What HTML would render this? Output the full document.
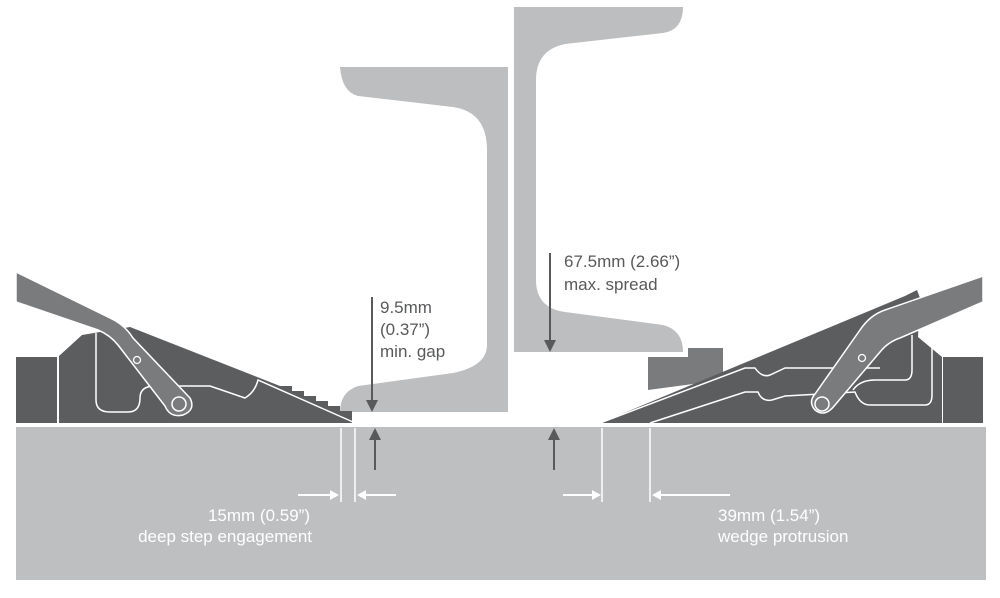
<!DOCTYPE html>
<html><head><style>
html,body{margin:0;padding:0;background:#fff;width:1000px;height:598px;overflow:hidden}
svg{display:block}
text{font-family:"Liberation Sans",sans-serif}
.n{font-family:"Liberation Sans Narrow","Liberation Sans",sans-serif}
</style></head><body>
<svg width="1000" height="598" viewBox="0 0 1000 598" xmlns="http://www.w3.org/2000/svg">
<!-- ground -->
<rect x="16" y="427" width="970" height="153" fill="#bebfc1"/>
<!-- left rail -->
<path d="M340,67 L508,67 L508,412 L340,412 Q340,392 358,386 L453,373 Q487,366 487,345 L487,150 Q487,112 453,107 L358,96 Q342,92 340,67 Z" fill="#bdbec0"/>
<!-- right rail -->
<path d="M514,7 L683,7 Q683,30 663,33 L565,44 Q536,50 536,80 L536,280 Q536,308 565,312 L663,325 Q683,330 683,352 L514,352 Z" fill="#bdbec0"/>

<!-- left clamp -->
<rect x="16" y="357" width="41" height="66" fill="#5c5d5f"/>
<path d="M59,423 L59,356 L82,335 L130,327 L280,386 L292,386 L292,391 L304,391 L304,396 L316,396 L316,401 L328,401 L328,406 L340,406 L340,411 L352,411 L352,423 Z" fill="#5c5d5f"/>
<path d="M96,333 L96,400 Q96,412 110,412 L128,412 Q140,412 140,398 Q140,386 155,386 L210,386 L245,398 Q255,392 258,380 L353,422" fill="none" stroke="#fff" stroke-width="1.5"/>
<path d="M16,272 L110,318 Q125,325 133,338 L190,398 Q196,410 183,415 Q170,418 165,406 L118,345 Q110,335 98,330 L16,302 Z" fill="#7a7b7d" stroke="#fff" stroke-width="1.5"/>
<circle cx="179" cy="404" r="7" fill="none" stroke="#fff" stroke-width="1.5"/>
<circle cx="137" cy="360" r="3.5" fill="none" stroke="#fff" stroke-width="1.3"/>

<!-- right clamp -->
<rect x="943" y="357" width="40" height="66" fill="#5c5d5f"/>
<path d="M648,357 L688,357 L688,348 L723,348 L723,380 L648,390 Z" fill="#7a7b7d"/>
<path d="M600,423 L905,296 L917,290 L920,298 L918,337 L942,357 L942,423 Z" fill="#5c5d5f"/>
<path d="M600,423 L745,368 L755,368 Q762,378 770,375 L785,368 L880,368" fill="none" stroke="#fff" stroke-width="1.5"/>
<path d="M650,423 L745,392 L758,392 Q762,402 772,400 L785,396 L855,392 Q860,405 870,405 L925,405 Q932,405 932,395 L932,340" fill="none" stroke="#fff" stroke-width="1.5"/>
<path d="M853,390 Q860,380 875,380 L905,380 Q912,380 912,370 L912,335" fill="none" stroke="#fff" stroke-width="1.5"/>
<path d="M983,276 L983,302 L900,338 Q888,342 880,352 L835,405 Q825,418 815,410 Q808,402 815,394 L860,330 Q870,315 885,310 Z" fill="#7a7b7d" stroke="#fff" stroke-width="1.5"/>
<circle cx="822" cy="404" r="7" fill="none" stroke="#fff" stroke-width="1.5"/>
<circle cx="862" cy="358" r="3.5" fill="none" stroke="#fff" stroke-width="1.3"/>

<!-- dark dimension arrows -->
<g stroke="#58595b" stroke-width="2" fill="#58595b">
<line x1="372" y1="297" x2="372" y2="402"/><path d="M366,400 L378,400 L372,412 Z" stroke="none"/>
<line x1="375" y1="470" x2="375" y2="437"/><path d="M369,440 L381,440 L375,428 Z" stroke="none"/>
<line x1="550" y1="253" x2="550" y2="342"/><path d="M544,340 L556,340 L550,352 Z" stroke="none"/>
<line x1="554" y1="470" x2="554" y2="437"/><path d="M548,440 L560,440 L554,428 Z" stroke="none"/>
</g>
<!-- white dimension -->
<g stroke="#fff" stroke-width="1.5" fill="#fff">
<line x1="341" y1="428" x2="341" y2="502"/><line x1="355" y1="428" x2="355" y2="502"/>
<line x1="602" y1="428" x2="602" y2="502"/><line x1="650" y1="428" x2="650" y2="502"/>
<line x1="298" y1="495" x2="332" y2="495" stroke-width="2"/><path d="M330,490 L339,495 L330,500 Z" stroke="none"/>
<line x1="364" y1="495" x2="396" y2="495" stroke-width="2"/><path d="M366,490 L357,495 L366,500 Z" stroke="none"/>
<line x1="563" y1="495" x2="594" y2="495" stroke-width="2"/><path d="M592,490 L601,495 L592,500 Z" stroke="none"/>
<line x1="660" y1="495" x2="730" y2="495" stroke-width="2"/><path d="M661,490 L652,495 L661,500 Z" stroke="none"/>
</g>
<!-- labels -->
<g fill="#58595b" font-size="17">
<text x="380" y="313">9.5mm</text>
<text x="380" y="335">(0.37”)</text>
<text x="380" y="357">min. gap</text>
<text x="564" y="267">67.5mm (2.66”)</text>
<text x="564" y="290">max. spread</text>
</g>
<g fill="#fff" font-size="17" class="n">
<text class="n" x="310" y="521" text-anchor="end">15mm (0.59”)</text>
<text class="n" x="312" y="542" text-anchor="end">deep step engagement</text>
<text class="n" x="718" y="521">39mm (1.54”)</text>
<text class="n" x="718" y="542">wedge protrusion</text>
</g>
</svg>
</body></html>
